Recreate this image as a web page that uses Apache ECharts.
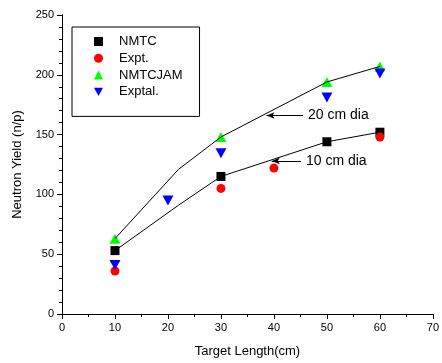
<!DOCTYPE html>
<html>
<head>
<meta charset="utf-8">
<script src="https://cdn.jsdelivr.net/npm/echarts@6/dist/echarts.min.js"></script>
<style>
  html, body { margin: 0; padding: 0; background: #fff; }
  #chart { width: 442px; height: 363px; }
</style>
</head>
<body>
<div id="chart"></div>
<script>
// measured points
const nmtc = [[10, 53], [30, 115], [50, 144], [60, 152]];
const expt = [[10, 36], [30, 105], [40, 122], [60, 148]];
const nmtcJam = [[10, 63], [30, 148], [50, 194], [60, 207]];
const exptal = [[10, 41], [20, 95], [30, 134.5], [50, 181], [60, 201]];

// hand drawn fit curves
const curve10 = [[10, 53], [22, 91], [30, 115], [50, 144], [60, 152]];
const curve20 = [[10, 63], [22, 121], [30, 148], [50, 194], [60, 207]];

// annotation arrows: [tip x, tail x, y, text]
const notes = [
  [38.6, 45.5, 166, '20 cm dia'],
  [39.6, 45.1, 128, '10 cm dia']
];

const font = 'Liberation Sans, Arial, sans-serif';
const downTri = 'path://M0,0 L10,0 L5,9 Z';
const chart = echarts.init(document.getElementById('chart'));

const axisBase = {
  axisLine: { lineStyle: { color: '#000', width: 1 } },
  axisTick: { lineStyle: { color: '#000' }, length: 5 },
  splitLine: { show: false },
  axisLabel: { color: '#000', fontSize: 11, fontFamily: font }
};

chart.setOption({
  animation: false,
  grid: { left: 62, right: 6, top: 15, bottom: 48 },
  legend: {
    orient: 'vertical',
    left: 72,
    top: 27,
    width: 120,
    padding: [8, 17, 18, 22],
    itemGap: 3.8,
    itemWidth: 9,
    itemHeight: 9,
    borderColor: '#000',
    borderWidth: 1,
    textStyle: { color: '#000', fontSize: 13, fontFamily: font, padding: [0, 0, 0, 11] },
    data: ['NMTC', 'Expt.', 'NMTCJAM', 'Exptal.']
  },
  xAxis: [
    Object.assign({}, axisBase, {
      type: 'value', min: 0, max: 70, interval: 10,
      minorTick: { show: true, splitNumber: 2, length: 3, lineStyle: { color: '#000' } },
      name: 'Target Length(cm)', nameLocation: 'middle', nameGap: 31,
      nameTextStyle: { color: '#000', fontSize: 13, fontFamily: font }
    }),
    Object.assign({}, axisBase, {
      type: 'value', min: 0, max: 70, interval: 10, position: 'top',
      axisTick: { inside: true, length: 5, lineStyle: { color: '#000' } },
      minorTick: { show: true, splitNumber: 2, length: 3, lineStyle: { color: '#000' } },
      axisLabel: { show: false }
    })
  ],
  yAxis: [
    Object.assign({}, axisBase, {
      type: 'value', min: 0, max: 250, interval: 50,
      minorTick: { show: true, splitNumber: 5, length: 3, lineStyle: { color: '#000' } },
      name: 'Neutron Yield (n/p)', nameLocation: 'middle', nameGap: 38,
      nameTextStyle: { color: '#000', fontSize: 13, fontFamily: font }
    }),
    Object.assign({}, axisBase, {
      type: 'value', min: 0, max: 250, interval: 50, position: 'right',
      axisTick: { inside: true, length: 5, lineStyle: { color: '#000' } },
      minorTick: { show: true, splitNumber: 5, length: 3, lineStyle: { color: '#000' } },
      axisLabel: { show: false }
    })
  ],
  series: [
    {
      type: 'line', data: curve10, showSymbol: false, silent: true,
      lineStyle: { color: '#000', width: 1 },
      markLine: {
        silent: true,
        symbol: ['arrow', 'none'],
        symbolSize: [5, 8],
        lineStyle: { color: '#000', width: 1, type: 'solid' },
        label: {
          position: 'end', distance: 5, color: '#000', fontSize: 14, fontFamily: font,
          formatter: p => p.name
        },
        data: notes.map(n => [
          { coord: [n[0], n[2]], name: n[3] },
          { coord: [n[1], n[2]] }
        ])
      }
    },
    {
      type: 'line', data: curve20, showSymbol: false, silent: true,
      lineStyle: { color: '#000', width: 1 }
    },
    {
      name: 'NMTC', type: 'scatter', data: nmtc,
      symbol: 'rect', symbolSize: 9, itemStyle: { color: '#000', opacity: 1 }
    },
    {
      name: 'Expt.', type: 'scatter', data: expt,
      symbol: 'circle', symbolSize: 9, itemStyle: { color: '#ff0000', opacity: 1 }
    },
    {
      name: 'NMTCJAM', type: 'scatter', data: nmtcJam,
      symbol: 'triangle', symbolSize: [11, 10], itemStyle: { color: '#00ff00', opacity: 1 }
    },
    {
      name: 'Exptal.', type: 'scatter', data: exptal,
      symbol: downTri, symbolSize: [11, 10], itemStyle: { color: '#0000ff', opacity: 1 }
    }
  ]
});
</script>
</body>
</html>
